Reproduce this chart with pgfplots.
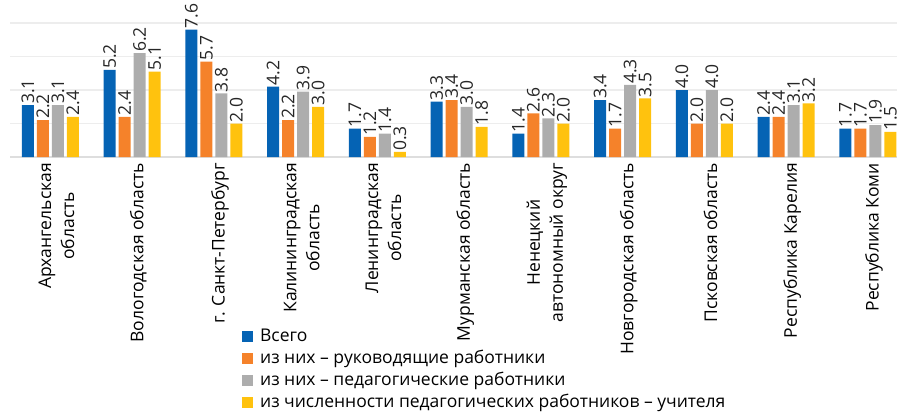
\documentclass[border=0pt]{standalone}
\usepackage{fontspec}
\setmainfont{Open Sans}
\usepackage{pgfplots}
\pgfplotsset{compat=1.18}
\definecolor{cBlue}{HTML}{0563B4}
\definecolor{cOrange}{HTML}{F5822A}
\definecolor{cGray}{HTML}{ADADAD}
\definecolor{cYellow}{HTML}{FFC20E}
\begin{document}
\fontsize{17.5pt}{21pt}\selectfont
\begin{tikzpicture}
\begin{axis}[
  at={(0,0)}, anchor=south west,
  scale only axis,
  width=887pt, height=134pt,
  xmin=-0.495, xmax=10.355,
  ymin=0, ymax=8,
  ybar=3pt, bar width=12pt,
  clip=false,
  axis x line*=bottom, axis y line*=left,
  y axis line style={draw=none},
  x axis line style={draw=black!13, line width=1.6pt},
  ytick={0,2,4,6,8}, yticklabels={},
  ymajorgrids, grid style={draw=black!7, line width=1.2pt},
  major tick length=0pt,
  xtick={0,...,10},
  xticklabels={{Архангельская\\область},{Вологодская область},{г. Санкт-Петербург},{Калининградская\\область},{Ленинградская\\область},{Мурманская область},{Ненецкий\\автономный округ},{Новгородская область},{Псковская область},{Республика Карелия},{Республика Коми}},
  xticklabel style={rotate=90, anchor=east, align=center, font=\fontsize{17.5pt}{23pt}\selectfont, yshift=-6pt},
  nodes near coords,
  nodes near coords style={rotate=90, anchor=west, font=\fontsize{17.5pt}{21pt}\selectfont, inner sep=1pt, text=black!85},
  /pgf/number format/.cd, fixed, fixed zerofill, precision=1, assume math mode=true, /pgfplots/.cd,
  legend cell align=left,
  legend style={at={(0.2615,-1.27)}, anchor=north west, draw=none, fill=none, inner sep=0pt,
    font=\fontsize{17.5pt}{21pt}\selectfont, row sep=2pt,
    /tikz/every odd column/.append style={column sep=5pt}},
  legend image code/.code={\fill[#1] (0pt,-5.5pt) rectangle (11pt,5.5pt);},
]
\addplot[fill=cBlue, draw=none] coordinates {(0,3.1) (1,5.2) (2,7.6) (3,4.2) (4,1.7) (5,3.3) (6,1.4) (7,3.4) (8,4.0) (9,2.4) (10,1.7)};
\addplot[fill=cOrange, draw=none] coordinates {(0,2.2) (1,2.4) (2,5.7) (3,2.2) (4,1.2) (5,3.4) (6,2.6) (7,1.7) (8,2.0) (9,2.4) (10,1.7)};
\addplot[fill=cGray, draw=none] coordinates {(0,3.1) (1,6.2) (2,3.8) (3,3.9) (4,1.4) (5,3.0) (6,2.3) (7,4.3) (8,4.0) (9,3.1) (10,1.9)};
\addplot[fill=cYellow, draw=none] coordinates {(0,2.4) (1,5.1) (2,2.0) (3,3.0) (4,0.3) (5,1.8) (6,2.0) (7,3.5) (8,2.0) (9,3.2) (10,1.5)};
\legend{Всего, из них – руководящие работники, из них – педагогические работники, из численности педагогических работников – учителя}
\end{axis}
\pgfresetboundingbox
\path[use as bounding box] (-10pt,-255pt) rectangle (887pt,157pt);
\end{tikzpicture}
\end{document}
